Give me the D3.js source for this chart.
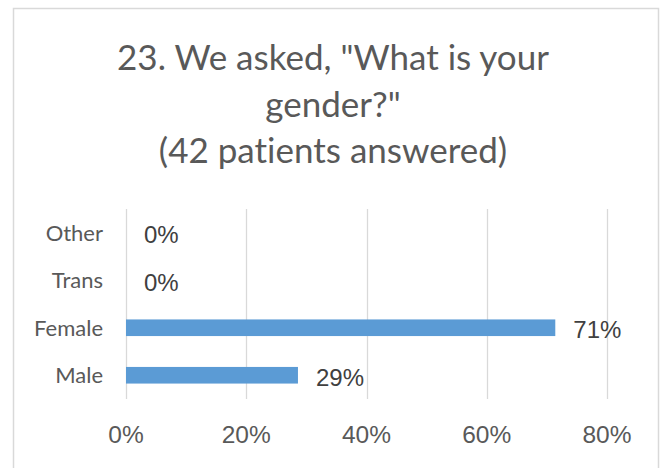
<!DOCTYPE html>
<html lang="en">
<head>
    <meta charset="UTF-8">
    <title>Gender</title>
    <script src="https://d3js.org/d3.v7.min.js"></script>
    <style>
        body { margin: 0; background: #fff; }
        text { font-variant-ligatures: none; }
        .title { font-family: Lato, "Open Sans", sans-serif; fill: #595959; text-anchor: middle; }
        .cat { font-family: Lato, "Open Sans", sans-serif; fill: #595959; text-anchor: end; }
        .tick-label { font-family: "Liberation Sans", Arial, sans-serif; fill: #595959; text-anchor: middle; }
        .value { font-family: "Liberation Sans", Arial, sans-serif; fill: #404040; }
    </style>
</head>
<body>
<script>
    const categories = ["Other", "Trans", "Female", "Male"];
    const shares = [0, 0, 0.714, 0.286];
    const ticks = [0, 0.2, 0.4, 0.6, 0.8];
    const titleLines = ['23. We asked, "What is your', 'gender?"', '(42 patients answered)'];

    const W = 664, H = 468;
    const svg = d3.select("body").append("svg")
        .attr("width", W)
        .attr("height", H);

    // chart frame
    svg.append("rect")
        .attr("x", 13.5).attr("y", 8.5)
        .attr("width", 645).attr("height", 480)
        .attr("fill", "#fff")
        .attr("stroke", "#d9d9d9")
        .attr("stroke-width", 1.5);

    svg.selectAll(".title")
        .data(titleLines)
        .enter().append("text")
        .attr("class", "title")
        .attr("x", 333)
        .attr("y", (d, i) => 70 + i * 46.5)
        .style("font-size", "35px")
        .text(d => d);

    const x = d3.scaleLinear().domain([0, 0.8]).range([126, 607]);
    const y = d3.scaleBand().domain(categories).range([209, 399]).paddingInner(0.65).paddingOuter(0.325);

    // gridlines
    svg.selectAll(".grid")
        .data(ticks)
        .enter().append("line")
        .attr("x1", d => Math.round(x(d)) + 0.5)
        .attr("x2", d => Math.round(x(d)) + 0.5)
        .attr("y1", 209).attr("y2", 399)
        .attr("stroke", "#d9d9d9")
        .attr("stroke-width", 1.3);

    svg.selectAll(".tick-label")
        .data(ticks)
        .enter().append("text")
        .attr("class", "tick-label")
        .attr("x", d => x(d))
        .attr("y", 443)
        .style("font-size", "24.5px")
        .text(d3.format(".0%"));

    svg.selectAll(".bar")
        .data(shares)
        .enter().append("rect")
        .attr("x", x(0))
        .attr("y", (d, i) => y(categories[i]))
        .attr("width", d => x(d) - x(0))
        .attr("height", y.bandwidth())
        .attr("fill", "#5b9bd5");

    const mid = c => y(c) + y.bandwidth() / 2;

    svg.selectAll(".cat")
        .data(categories)
        .enter().append("text")
        .attr("class", "cat")
        .attr("x", 103)
        .attr("y", d => mid(d) + 8)
        .style("font-size", "22px")
        .text(d => d);

    svg.selectAll(".value")
        .data(shares)
        .enter().append("text")
        .attr("class", "value")
        .attr("x", d => x(d) + 18)
        .attr("y", (d, i) => mid(categories[i]) + 10.5)
        .style("font-size", "24px")
        .text(d3.format(".0%"));
</script>
</body>
</html>
